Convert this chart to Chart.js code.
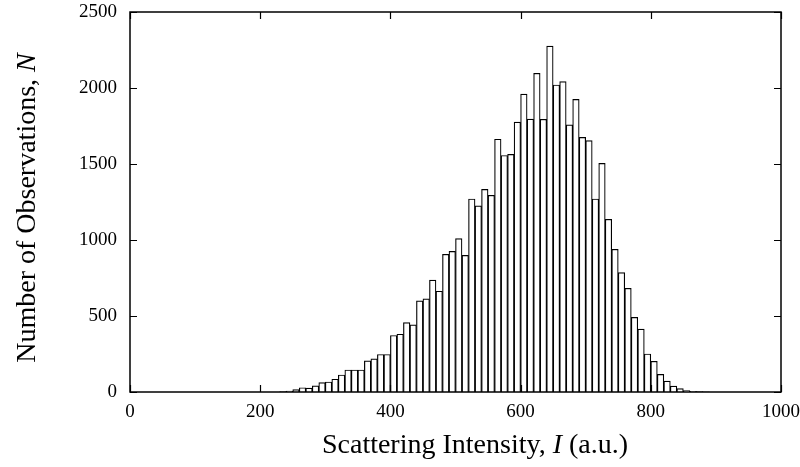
<!DOCTYPE html>
<html>
<head>
<meta charset="utf-8">
<script src="https://cdn.jsdelivr.net/npm/chart.js@4/dist/chart.umd.min.js"></script>
<style>
  html, body { margin: 0; padding: 0; background: #fff; }
  #wrap { width: 800px; height: 467px; position: relative; }
</style>
</head>
<body>
<div id="wrap"><canvas id="chart"></canvas></div>
<script>
/* Histogram of scattering intensity: Chart.js bar chart on a linear x scale */

// bin centres (a.u.), bins are 10 wide
const binCenters = [
  235, 245, 255, 265, 275, 285, 295, 305, 315, 325,
  335, 345, 355, 365, 375, 385, 395, 405, 415, 425,
  435, 445, 455, 465, 475, 485, 495, 505, 515, 525,
  535, 545, 555, 565, 575, 585, 595, 605, 615, 625,
  635, 645, 655, 665, 675, 685, 695, 705, 715, 725,
  735, 745, 755, 765, 775, 785, 795, 805, 815, 825,
  835, 845, 855, 865, 875, 885,
];

// number of observations per bin
const counts = [
  2, 6, 16, 28, 25, 41, 62, 66, 84, 112,
  145, 145, 145, 205, 218, 247, 247, 372, 380, 457,
  442, 600, 613, 736, 663, 906, 925, 1009, 899, 1270,
  1225, 1333, 1294, 1663, 1556, 1563, 1775, 1960, 1796, 2097,
  1794, 2276, 2020, 2042, 1757, 1925, 1675, 1654, 1270, 1504,
  1136, 939, 785, 682, 491, 414, 250, 202, 116, 72,
  39, 22, 9, 5, 3, 1,
];

const xTicks = [0, 200, 400, 600, 800, 1000];
const yTicks = [0, 500, 1000, 1500, 2000, 2500];

const xTitle = ['Scattering Intensity, ', 'I', ' (a.u.)'];
const yTitle = ['Number of Observations, ', 'N'];

const serif = '"Liberation Serif", "Times New Roman", serif';
const tickLen = 7;

// draws a title made of plain / italic / plain parts, centred at (cx, cy)
function drawParts(ctx, parts, cx, cy, size, angle) {
  ctx.save();
  ctx.translate(cx, cy);
  ctx.rotate(angle);
  const fonts = parts.map((p, i) => (i % 2 === 1 ? 'italic ' : '') + size + 'px ' + serif);
  let total = 0;
  const widths = parts.map((p, i) => {
    ctx.font = fonts[i];
    const w = ctx.measureText(p).width;
    total += w;
    return w;
  });
  let x = -total / 2;
  ctx.fillStyle = '#000';
  ctx.textBaseline = 'middle';
  ctx.textAlign = 'left';
  parts.forEach((p, i) => {
    ctx.font = fonts[i];
    ctx.fillText(p, x, 0);
    x += widths[i];
  });
  ctx.restore();
}

const framePlugin = {
  id: 'frame',
  afterDatasetsDraw(chart) {
    const { ctx, chartArea: a, scales } = chart;
    ctx.save();
    ctx.strokeStyle = '#000';
    ctx.lineWidth = 1.5;
    ctx.strokeRect(a.left, a.top, a.right - a.left, a.bottom - a.top);
    ctx.beginPath();
    xTicks.forEach(v => {
      const px = Math.round(scales.x.getPixelForValue(v)) + 0.5;
      ctx.moveTo(px, a.bottom); ctx.lineTo(px, a.bottom - tickLen);
      ctx.moveTo(px, a.top); ctx.lineTo(px, a.top + tickLen);
    });
    yTicks.forEach(v => {
      const py = Math.round(scales.y.getPixelForValue(v)) + 0.5;
      ctx.moveTo(a.left, py); ctx.lineTo(a.left + tickLen, py);
      ctx.moveTo(a.right, py); ctx.lineTo(a.right - tickLen, py);
    });
    ctx.lineWidth = 1.2;
    ctx.stroke();
    ctx.restore();
  },
  afterDraw(chart) {
    const ctx = chart.ctx;
    drawParts(ctx, xTitle, 475, 446, 28, 0);
    drawParts(ctx, yTitle, 28, 208, 28, -Math.PI / 2);
  },
};

// fixed axis sizes, no extra padding for overhanging labels
function fixX(s) { s.height = 75; s.paddingLeft = 0; s.paddingRight = 0; }
function fixY(s) { s.width = 130; s.paddingTop = 0; s.paddingBottom = 0; }

function init() {
  const data = binCenters.map((x, i) => ({ x, y: counts[i] }));
  new Chart(document.getElementById('chart'), {
    type: 'bar',
    data: {
      datasets: [{
        data,
        backgroundColor: '#fff',
        borderColor: '#000',
        borderWidth: 1.2,
        barPercentage: 1,
        categoryPercentage: 1,
      }],
    },
    options: {
      responsive: true,
      maintainAspectRatio: false,
      animation: false,
      layout: { padding: { top: 12, right: 19, left: 0, bottom: 0 } },
      plugins: {
        legend: { display: false },
        tooltip: { enabled: false },
      },
      scales: {
        x: {
          type: 'linear',
          offset: false,
          min: 0,
          max: 1000,
          afterBuildTicks: s => { s.ticks = xTicks.map(v => ({ value: v })); },
          afterFit: fixX,
          grid: { display: false, drawTicks: false },
          border: { display: false },
          ticks: {
            color: '#000',
            padding: 9,
            maxRotation: 0,
            callback: v => String(v),
            font: { family: serif, size: 19 },
          },
        },
        y: {
          min: 0,
          max: 2500,
          afterBuildTicks: s => { s.ticks = yTicks.map(v => ({ value: v })); },
          afterFit: fixY,
          grid: { display: false, drawTicks: false },
          border: { display: false },
          ticks: {
            color: '#000',
            padding: 13,
            callback: v => String(v),
            font: { family: serif, size: 19 },
          },
        },
      },
    },
    plugins: [framePlugin],
  });
}

document.addEventListener('DOMContentLoaded', init);
</script>
</body>
</html>
